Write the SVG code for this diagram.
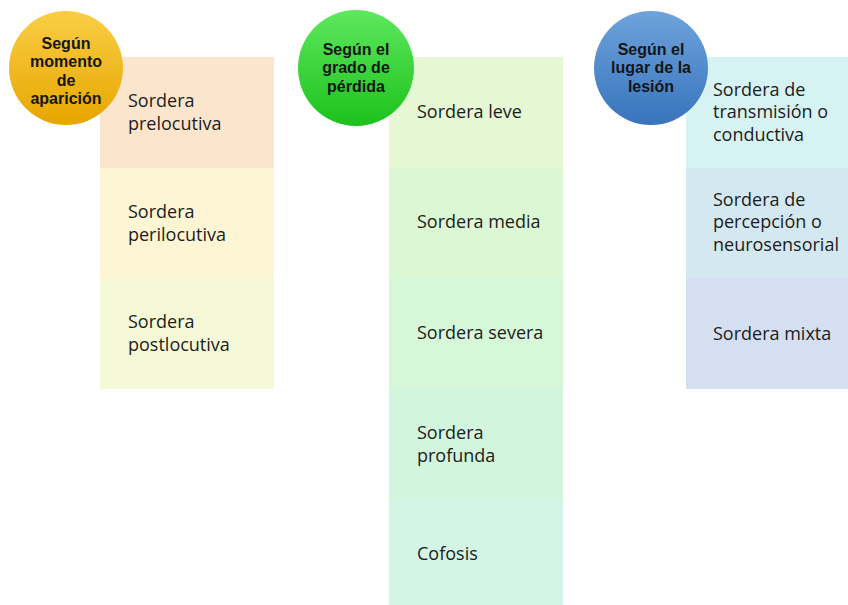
<svg xmlns="http://www.w3.org/2000/svg" width="848" height="605" viewBox="0 0 848 605">
<defs>
<linearGradient id="gGold" x1="0" y1="0" x2="0" y2="1"><stop offset="0" stop-color="#F9CE45"/><stop offset="1" stop-color="#E7A600"/></linearGradient>
<linearGradient id="gGreen" x1="0" y1="0" x2="0" y2="1"><stop offset="0" stop-color="#5EE85E"/><stop offset="1" stop-color="#1CC21C"/></linearGradient>
<linearGradient id="gBlue" x1="0" y1="0" x2="0" y2="1"><stop offset="0" stop-color="#6EA3DB"/><stop offset="1" stop-color="#3874BD"/></linearGradient>
<style>
.t{font-family:"Open Sans","Liberation Sans",sans-serif;font-size:18px;fill:#1c1c1c}
.h{font-family:"Liberation Sans",Arial,sans-serif;font-size:16px;font-weight:bold;fill:#151515;text-anchor:middle}
</style>
</defs>
<rect width="848" height="605" fill="#ffffff"/>
<g id="col1">
<g id="prelocutiva"><rect x="100" y="57" width="174" height="111" fill="#FCE5CD"/><text class="t" x="128" y="107">Sordera</text><text class="t" x="128" y="130">prelocutiva</text></g>
<g id="perilocutiva"><rect x="100" y="168" width="174" height="110" fill="#FDF5D3"/><text class="t" x="128" y="218">Sordera</text><text class="t" x="128" y="241">perilocutiva</text></g>
<g id="postlocutiva"><rect x="100" y="278" width="174" height="111" fill="#F5F9D7"/><text class="t" x="128" y="328">Sordera</text><text class="t" x="128" y="351">postlocutiva</text></g>
<g id="momento"><circle cx="66" cy="68" r="57" fill="url(#gGold)"/><text class="h" x="66" y="48.5">Según</text><text class="h" x="66" y="67">momento</text><text class="h" x="66" y="85.5">de</text><text class="h" x="66" y="104">aparición</text></g>
</g>
<g id="col2">
<g id="leve"><rect x="389" y="57" width="174" height="111" fill="#E5F8D3"/><text class="t" x="417" y="118">Sordera leve</text></g>
<g id="media"><rect x="389" y="168" width="174" height="110" fill="#DBF7D3"/><text class="t" x="417" y="228">Sordera media</text></g>
<g id="severa"><rect x="389" y="278" width="174" height="111" fill="#D6F7D8"/><text class="t" x="417" y="339">Sordera severa</text></g>
<g id="profunda"><rect x="389" y="389" width="174" height="111" fill="#D2F5DD"/><text class="t" x="417" y="439">Sordera</text><text class="t" x="417" y="462">profunda</text></g>
<g id="cofosis"><rect x="389" y="500" width="174" height="105" fill="#D3F5E6"/><text class="t" x="417" y="560">Cofosis</text></g>
<g id="grado"><circle cx="356" cy="68" r="58" fill="url(#gGreen)"/><text class="h" x="356" y="54.5">Según el</text><text class="h" x="356" y="73">grado de</text><text class="h" x="356" y="91.5">pérdida</text></g>
</g>
<g id="col3">
<g id="conductiva"><rect x="686" y="57" width="162" height="111" fill="#D6F2F3"/><text class="t" x="713" y="96">Sordera de</text><text class="t" x="713" y="118">transmisión o</text><text class="t" x="713" y="141">conductiva</text></g>
<g id="neurosensorial"><rect x="686" y="168" width="162" height="110" fill="#D4E8F1"/><text class="t" x="713" y="206">Sordera de</text><text class="t" x="713" y="228">percepción o</text><text class="t" x="713" y="251">neurosensorial</text></g>
<g id="mixta"><rect x="686" y="278" width="162" height="111" fill="#D5DFF2"/><text class="t" x="713" y="340">Sordera mixta</text></g>
<g id="lugar"><circle cx="651" cy="68" r="57" fill="url(#gBlue)"/><text class="h" x="651" y="54.5">Según el</text><text class="h" x="651" y="73">lugar de la</text><text class="h" x="651" y="91.5">lesión</text></g>
</g>
<g id="connectors"/>
</svg>
